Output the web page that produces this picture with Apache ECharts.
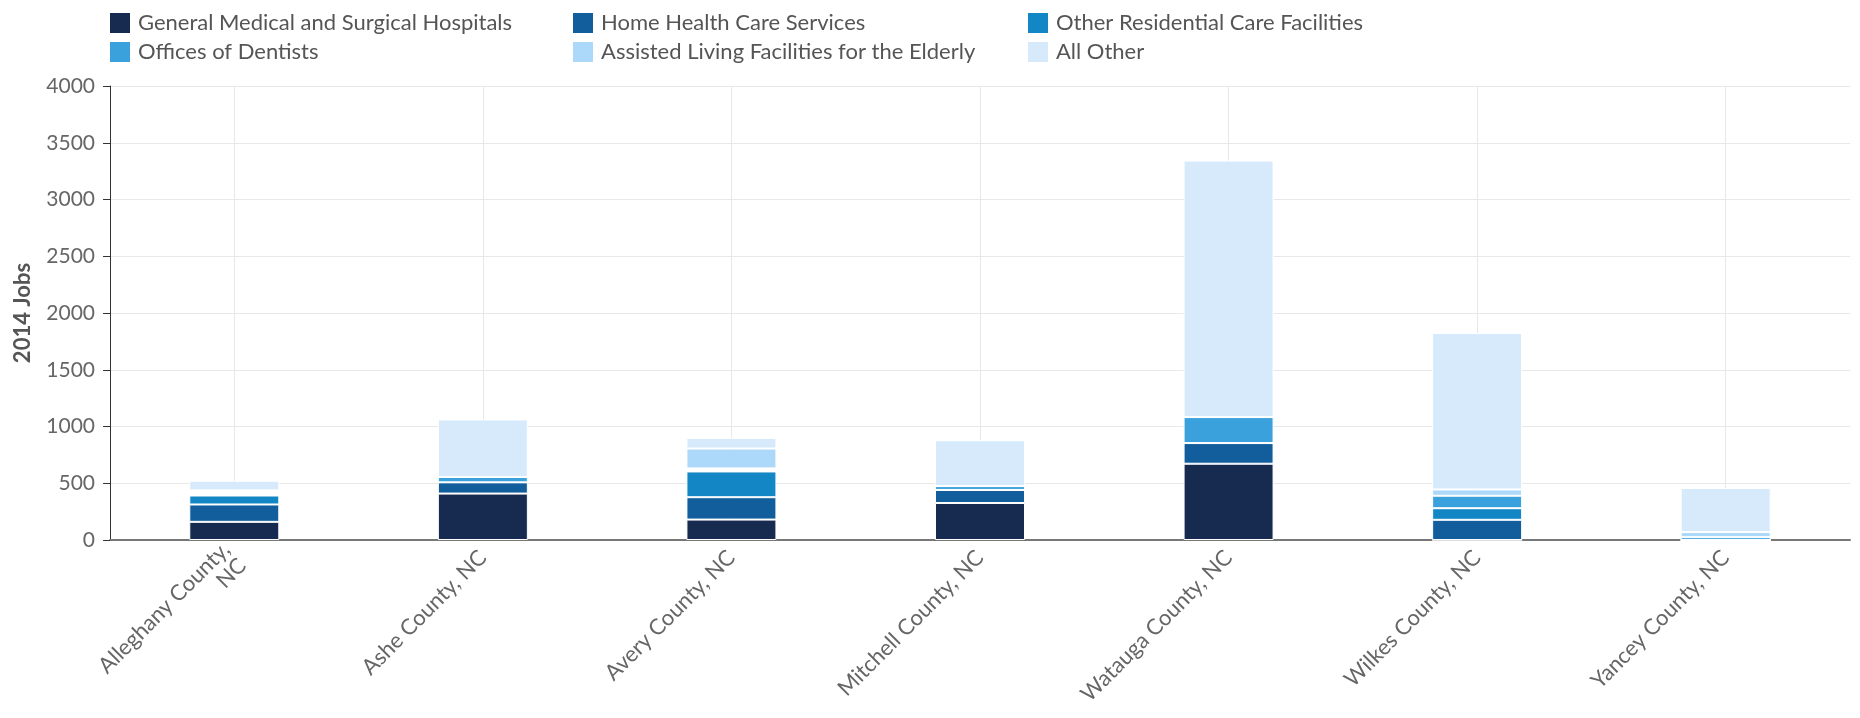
<!DOCTYPE html>
<html>
<head>
<meta charset="utf-8">
<script src="https://cdn.jsdelivr.net/npm/echarts@6/dist/echarts.min.js"></script>
<style>
html,body{margin:0;padding:0;background:#fff;}
#chart{width:1860px;height:718px;}
</style>
</head>
<body>
<div id="chart"></div>
<script>
const categories = ['Alleghany County,\nNC', 'Ashe County, NC', 'Avery County, NC', 'Mitchell County, NC', 'Watauga County, NC', 'Wilkes County, NC', 'Yancey County, NC'];
const generalMedical   = [160, 409, 180, 326, 672, 0, 0];
const homeHealth       = [153, 99, 197, 115, 182, 178, 0];
const otherResidential = [79, 0, 227, 0, 0, 102, 0];
const suppressed       = [45, 0, 27, 0, 0, 0, 0];
const officesDentists  = [0, 48, 0, 34, 229, 110, 25];
const assistedLiving   = [0, 0, 175, 0, 0, 55, 45];
const allOther         = [85, 506, 93, 404, 2260, 1378, 388];
const yTicks = { min: 0, max: 4000, interval: 500 };

const seriesDefs = [
  { name: 'General Medical and Surgical Hospitals', data: generalMedical, color: '#172a50' },
  { name: 'Home Health Care Services', data: homeHealth, color: '#125d9c' },
  { name: 'Other Residential Care Facilities', data: otherResidential, color: '#1386c5' },
  { name: 'Suppressed', data: suppressed, color: '#ffffff' },
  { name: 'Offices of Dentists', data: officesDentists, color: '#3aa1dd' },
  { name: 'Assisted Living Facilities for the Elderly', data: assistedLiving, color: '#acd9f9' },
  { name: 'All Other', data: allOther, color: '#d6eafc' }
];

const font = 'Lato, "DejaVu Sans", sans-serif';
const legendBase = {
  orient: 'vertical', top: 6, itemWidth: 22, itemHeight: 22, itemGap: 5,
  icon: 'rect',
  textStyle: { fontFamily: font, fontSize: 22, color: '#555', padding: [0, 0, 0, 2] },
  selectedMode: false
};

const chart = echarts.init(document.getElementById('chart'), null, { renderer: 'canvas' });
chart.setOption({
  animation: false,
  color: seriesDefs.map(s => s.color),
  legend: [
    Object.assign({}, legendBase, { left: 103, data: ['General Medical and Surgical Hospitals', 'Offices of Dentists'] }),
    Object.assign({}, legendBase, { left: 566, data: ['Home Health Care Services', 'Assisted Living Facilities for the Elderly'] }),
    Object.assign({}, legendBase, { left: 1021, data: ['Other Residential Care Facilities', 'All Other'] })
  ],
  grid: { left: 110, right: 10, top: 86, bottom: 178, containLabel: false },
  xAxis: {
    type: 'category',
    data: categories,
    axisLine: { lineStyle: { color: '#777', width: 2 } },
    axisTick: { show: false },
    splitLine: { show: true, alignWithLabel: true, lineStyle: { color: '#e8e8e8', width: 1 } },
    axisLabel: { rotate: 45, margin: 14, fontFamily: font, fontSize: 22, color: '#666', interval: 0, align: 'right', lineHeight: 23 }
  },
  yAxis: {
    type: 'value',
    min: yTicks.min, max: yTicks.max, interval: yTicks.interval,
    name: '2014 Jobs',
    nameLocation: 'middle',
    nameGap: 76,
    nameTextStyle: { fontFamily: font, fontSize: 22, fontWeight: 'bold', color: '#555' },
    axisLine: { show: true, lineStyle: { color: '#333', width: 1 } },
    axisTick: { show: true, length: 7, lineStyle: { color: '#333' } },
    splitLine: { lineStyle: { color: '#e8e8e8' } },
    axisLabel: { fontFamily: font, fontSize: 21, color: '#666', margin: 15, formatter: v => String(v) }
  },
  series: seriesDefs.map(s => ({
    name: s.name,
    type: 'bar',
    stack: 'jobs',
    data: s.data,
    barWidth: 90,
    itemStyle: { color: s.color, borderColor: '#ffffff', borderWidth: 1 }
  }))
});
</script>
</body>
</html>
